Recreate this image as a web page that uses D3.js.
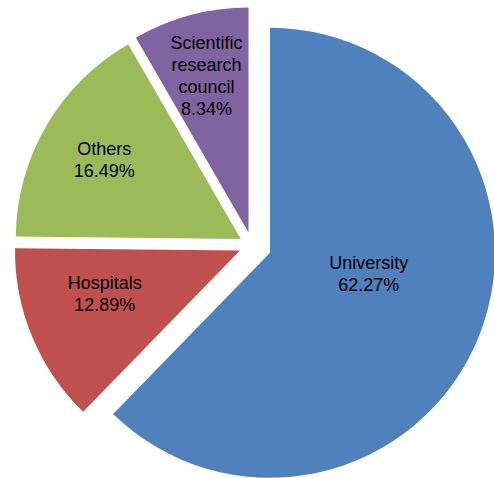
<!DOCTYPE html>
<html>
<head>
<meta charset="utf-8">
<script src="https://cdn.jsdelivr.net/npm/d3@7"></script>
<style>
  html, body { margin: 0; padding: 0; background: #ffffff; }
  svg { display: block; }
</style>
</head>
<body>
<svg id="chart" width="494" height="478"></svg>
<script>
// Share of funding by source (percent)
const categories = ["University", "Hospitals", "Others", "Scientific research council"];
const labelLines = [["University"], ["Hospitals"], ["Others"], ["Scientific", "research", "council"]];
const shares = [62.27, 12.89, 16.49, 8.34];

// Slice styling
const colors = ["#4F81BD", "#C0504D", "#9BBB59", "#8064A2"];
const explode = [19.4, 13, 13, 13.5];      // pull-out distance along each slice's bisector
const labelRadius = [101, 142, 158, 162];  // label distance from the slice tip
const labelTurn = [-10, 5, 0, 0];          // label angle nudge from the bisector, degrees

const width = 494, height = 478;
const cx = 252, cy = 245.5, radius = 225;
const fontSize = 18, lineHeight = 22;

const svg = d3.select("#chart");
const g = svg.append("g").attr("transform", `translate(${cx},${cy})`);

const pie = d3.pie().sort(null).value(d => d).startAngle(0).endAngle(2 * Math.PI);
const arc = d3.arc().innerRadius(0).outerRadius(radius);

const arcs = pie(shares);

const slice = g.selectAll("g.slice")
  .data(arcs)
  .join("g")
  .attr("class", "slice")
  .attr("transform", (d, i) => {
    const mid = (d.startAngle + d.endAngle) / 2;
    return `translate(${Math.sin(mid) * explode[i]},${-Math.cos(mid) * explode[i]})`;
  });

slice.append("path")
  .attr("d", arc)
  .attr("fill", (d, i) => colors[i]);

slice.each(function (d, i) {
  const mid = (d.startAngle + d.endAngle) / 2 + labelTurn[i] * Math.PI / 180;
  const lx = Math.sin(mid) * labelRadius[i];
  const ly = -Math.cos(mid) * labelRadius[i];
  const lines = labelLines[i].concat([d.data.toFixed(2) + "%"]);
  const first = ly - (lines.length - 1) * lineHeight / 2 + fontSize * 0.36;
  const text = d3.select(this).append("text")
    .attr("text-anchor", "middle")
    .attr("font-family", "'Liberation Sans', Arial, Helvetica, sans-serif")
    .attr("font-size", fontSize)
    .attr("fill", "#000000");
  text.selectAll("tspan")
    .data(lines)
    .join("tspan")
    .attr("x", lx)
    .attr("y", (t, k) => first + k * lineHeight)
    .text(t => t);
});
</script>
</body>
</html>
